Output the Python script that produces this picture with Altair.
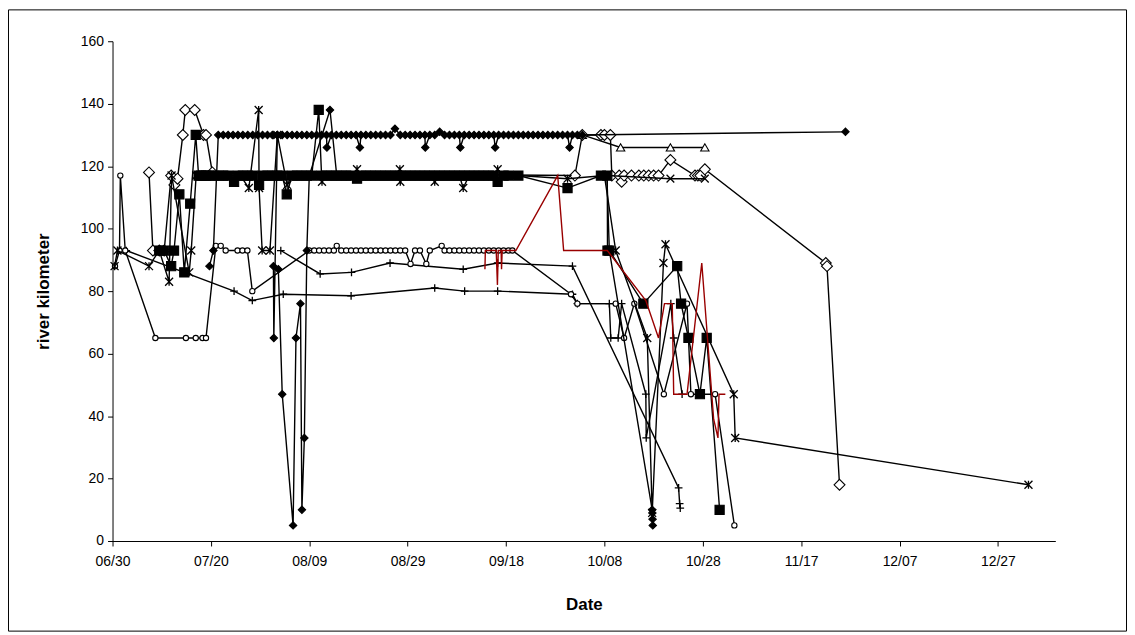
import altair as alt
import pandas as pd

# ---------------- data (date "MM/DD HH", river km) ----------------
tick_dates = ["06/30", "07/20", "08/09", "08/29", "09/18", "10/08", "10/28", "11/17", "12/07", "12/27"]
y_ticks = [0, 20, 40, 60, 80, 100, 120, 140, 160]

dia_band = [
    ("07/19 17", 88), ("07/20 12", 93), ("07/21 12", 130), ("07/22 12", 130), ("07/23 12", 130),
    ("07/24 12", 130), ("07/25 12", 130), ("07/26 12", 130), ("07/27 12", 130), ("07/28 12", 130),
    ("07/29 12", 130), ("07/30 12", 130), ("07/31 12", 130), ("08/01 12", 130), ("08/02 12", 130),
    ("08/03 12", 130), ("08/04 12", 130), ("08/05 12", 130), ("08/06 12", 130), ("08/07 12", 130),
    ("08/08 12", 130), ("08/09 12", 130), ("08/10 12", 130), ("08/11 12", 130), ("08/12 12", 130),
    ("08/12 14", 126), ("08/13 12", 130), ("08/14 12", 130), ("08/15 12", 130), ("08/16 12", 130),
    ("08/17 12", 130), ("08/18 12", 130), ("08/19 07", 126), ("08/19 12", 130), ("08/20 12", 130),
    ("08/21 12", 130), ("08/22 12", 130), ("08/23 12", 130), ("08/24 12", 130), ("08/25 12", 130),
    ("08/26 10", 132), ("08/27 12", 130), ("08/28 12", 130), ("08/29 12", 130), ("08/30 12", 130),
    ("08/31 12", 130), ("09/01 12", 130), ("09/01 14", 126), ("09/02 12", 130), ("09/03 12", 130),
    ("09/04 12", 131), ("09/05 12", 130), ("09/06 12", 130), ("09/07 12", 130), ("09/08 12", 130),
    ("09/08 17", 126), ("09/09 12", 130), ("09/10 12", 130), ("09/11 12", 130), ("09/12 12", 130),
    ("09/13 12", 130), ("09/14 12", 130), ("09/15 12", 130), ("09/15 19", 126), ("09/16 12", 130),
    ("09/17 12", 130), ("09/18 12", 130), ("09/19 12", 130), ("09/20 12", 130), ("09/21 12", 130),
    ("09/22 12", 130), ("09/23 12", 130), ("09/24 12", 130), ("09/25 12", 130), ("09/26 12", 130),
    ("09/27 12", 130), ("09/28 12", 130), ("09/29 12", 130), ("09/30 12", 130), ("09/30 22", 126),
    ("10/01 12", 130), ("10/02 12", 130), ("10/03 12", 130), ("11/26", 131),
]

dia_drop = [
    ("08/02 12", 130), ("08/01 19", 65), ("08/01 17", 88), ("08/02 17", 87), ("08/03 12", 47),
    ("08/05 17", 5), ("08/06 07", 65), ("08/07 05", 76), ("08/07 12", 10), ("08/08 00", 33),
    ("08/08 12", 93), ("08/09 00", 117), ("08/13 05", 138), ("08/14 14", 117),
]

dia_bottom = [
    ("10/08 12", 117), ("10/09 00", 93), ("10/17 17", 10), ("10/17 18", 9), ("10/17 19", 7),
    ("10/17 20", 5),
]

square_pts = [
    ("07/09 12", 93), ("07/10 12", 93), ("07/11 22", 88), ("07/12 12", 93), ("07/13 14", 111),
    ("07/14 14", 86), ("07/15 19", 108), ("07/16 22", 130), ("07/17 12", 117), ("07/18 00", 117),
    ("07/18 12", 117), ("07/19 00", 117), ("07/19 12", 117), ("07/20 12", 117), ("07/21 12", 117),
    ("07/22 12", 117), ("07/23 12", 117), ("07/24 17", 115), ("07/25 12", 117), ("07/26 12", 117),
    ("07/27 12", 117), ("07/28 12", 117), ("07/29 19", 114), ("07/30 12", 117), ("07/31 12", 117),
    ("08/01 12", 117), ("08/02 12", 117), ("08/03 12", 117), ("08/04 10", 111), ("08/05 12", 117),
    ("08/06 12", 117), ("08/07 12", 117), ("08/08 12", 117), ("08/09 12", 117), ("08/10 22", 138),
    ("08/11 12", 117), ("08/12 12", 117), ("08/13 12", 117), ("08/14 12", 117), ("08/15 12", 117),
    ("08/16 12", 117), ("08/17 12", 117), ("08/18 17", 116), ("08/19 12", 117), ("08/20 12", 117),
    ("08/21 12", 117), ("08/22 12", 117), ("08/23 12", 117), ("08/24 12", 117), ("08/25 12", 117),
    ("08/26 12", 117), ("08/27 12", 117), ("08/28 12", 117), ("08/29 12", 117), ("08/30 12", 117),
    ("08/31 12", 117), ("09/01 12", 117), ("09/02 12", 117), ("09/03 12", 117), ("09/04 12", 117),
    ("09/05 12", 117), ("09/06 12", 117), ("09/07 12", 117), ("09/08 12", 117), ("09/09 12", 117),
    ("09/10 12", 117), ("09/11 12", 117), ("09/12 12", 117), ("09/13 12", 117), ("09/14 12", 117),
    ("09/15 12", 117), ("09/16 07", 115), ("09/17 12", 117), ("09/18 12", 117), ("09/20 12", 117),
    ("09/30 12", 113), ("10/07 07", 117), ("10/08 14", 117), ("10/08 15", 93), ("10/09 00", 93),
    ("10/15 22", 76), ("10/22 19", 88), ("10/23 14", 76), ("10/25 02", 65), ("10/27 10", 47),
    ("10/28 19", 65), ("10/31 10", 10),
]

star_pts = [
    ("06/30 10", 88), ("07/01 00", 93), ("07/07 10", 88), ("07/09 12", 93), ("07/11 12", 83),
    ("07/12 00", 117), ("07/15 14", 86), ("07/16 00", 93), ("07/17 00", 117), ("07/18 00", 117),
    ("07/19 00", 117), ("07/20 00", 117), ("07/21 00", 117), ("07/22 00", 117), ("07/23 00", 117),
    ("07/24 00", 117), ("07/25 00", 117), ("07/26 00", 117), ("07/27 17", 113), ("07/29 17", 138),
    ("07/29 19", 113), ("07/30 10", 93), ("08/01 00", 93), ("08/02 12", 130), ("08/04 12", 114),
    ("08/05 12", 117), ("08/06 12", 117), ("08/07 12", 117), ("08/08 12", 117), ("08/09 12", 117),
    ("08/10 12", 117), ("08/11 14", 115), ("08/12 12", 117), ("08/13 12", 117), ("08/14 12", 117),
    ("08/15 12", 117), ("08/16 12", 117), ("08/17 12", 117), ("08/18 17", 119), ("08/19 12", 117),
    ("08/20 12", 117), ("08/21 12", 117), ("08/22 12", 117), ("08/23 12", 117), ("08/24 12", 117),
    ("08/25 12", 117), ("08/26 12", 117), ("08/27 10", 119), ("08/27 12", 115), ("08/28 12", 117),
    ("08/29 12", 117), ("08/30 12", 117), ("08/31 12", 117), ("09/01 12", 117), ("09/02 12", 117),
    ("09/03 12", 115), ("09/04 12", 117), ("09/05 12", 117), ("09/06 12", 117), ("09/07 12", 117),
    ("09/08 12", 117), ("09/09 07", 113), ("09/10 12", 117), ("09/11 12", 117), ("09/12 12", 117),
    ("09/13 12", 117), ("09/14 12", 117), ("09/15 12", 117), ("09/16 07", 119), ("09/17 12", 117),
    ("09/18 12", 117), ("09/19 12", 117), ("09/20 12", 117), ("09/30 12", 116), ("10/08 00", 117),
    ("10/10 07", 93), ("10/16 17", 65), ("10/17 17", 9), ("10/20 00", 89), ("10/20 10", 95),
    ("11/03 07", 47), ("11/03 14", 33), ("01/02 05", 18),
]

star_late = [("10/08 14", 117), ("10/21 10", 116), ("10/28 10", 116)]

open_dia = [
    ("07/07 10", 118), ("07/08 05", 93), ("07/09 12", 93), ("07/10 12", 93), ("07/11 22", 117),
    ("07/12 14", 114), ("07/13 05", 116), ("07/14 07", 130), ("07/14 19", 138), ("07/16 17", 138),
    ("07/18 12", 130), ("07/19 00", 130), ("07/20 07", 118), ("10/02 00", 117), ("10/03 12", 130),
    ("10/07 07", 130), ("10/08 00", 130), ("10/09 05", 130), ("10/09 12", 117), ("10/11 00", 117),
    ("10/11 12", 115), ("10/12 00", 117), ("10/13 12", 117), ("10/15 00", 117), ("10/16 00", 117),
    ("10/17 00", 117), ("10/18 00", 117), ("10/19 00", 117), ("10/21 10", 122), ("10/26 10", 117),
    ("10/27 00", 117), ("10/27 12", 117), ("10/28 10", 119), ("11/22 00", 89), ("11/22 06", 88),
    ("11/24 19", 18),
]

triangle_pts = [("10/03 12", 130), ("10/11 07", 126), ("10/21 10", 126), ("10/28 10", 126)]

circle_pts = [
    ("06/30 12", 88), ("07/01 10", 93), ("07/01 14", 117), ("07/02 14", 93), ("07/08 17", 65),
    ("07/14 22", 65), ("07/16 22", 65), ("07/18 07", 65), ("07/19 00", 65), ("07/21 00", 94.5),
    ("07/22 00", 94.5), ("07/23 00", 93), ("07/25 10", 93), ("07/26 10", 93), ("07/27 10", 93),
    ("07/28 10", 80), ("08/09 00", 93), ("08/10 00", 93), ("08/11 00", 93), ("08/12 00", 93),
    ("08/13 00", 93), ("08/14 00", 93), ("08/14 14", 94.5), ("08/15 12", 93), ("08/16 12", 93),
    ("08/17 12", 93), ("08/18 12", 93), ("08/19 12", 93), ("08/20 12", 93), ("08/21 12", 93),
    ("08/22 12", 93), ("08/23 12", 93), ("08/24 12", 93), ("08/25 12", 93), ("08/26 12", 93),
    ("08/27 12", 93), ("08/28 12", 93), ("08/29 14", 88.7), ("08/30 12", 93), ("08/31 12", 93),
    ("09/01 19", 88.7), ("09/02 12", 93), ("09/04 22", 94.5), ("09/05 12", 93), ("09/06 12", 93),
    ("09/07 12", 93), ("09/08 12", 93), ("09/09 12", 93), ("09/10 12", 93), ("09/11 12", 93),
    ("09/12 12", 93), ("09/13 12", 93), ("09/14 12", 93), ("09/15 12", 93), ("09/16 12", 93),
    ("09/17 12", 93), ("09/18 12", 93), ("09/19 07", 93), ("10/01 05", 79), ("10/02 12", 76),
    ("10/10 07", 76), ("10/12 00", 65), ("10/14 02", 76), ("10/20 02", 47), ("10/24 19", 76),
    ("10/25 14", 47), ("10/30 12", 47), ("11/03 10", 5),
]

plus_low = [
    ("07/02 19", 93), ("07/24 17", 80), ("07/28 10", 77), ("08/03 17", 79), ("08/17 12", 78.5),
    ("09/03 12", 81), ("09/09 14", 80), ("09/16 07", 80), ("10/01 12", 79), ("10/02 12", 76),
    ("10/09 00", 76), ("10/09 07", 65), ("10/10 19", 65), ("10/11 12", 76), ("10/16 10", 47),
    ("10/16 12", 33), ("10/21 12", 76), ("10/22 02", 65), ("10/23 19", 47),
]

plus_high = [
    ("08/03 05", 93), ("08/11 05", 85.5), ("08/17 14", 86), ("08/25 10", 89), ("09/09 07", 87),
    ("09/16 07", 89), ("10/01 12", 88), ("10/23 02", 17), ("10/23 07", 12), ("10/23 10", 10.5),
]

red_pts = [
    ("09/13 17", 87), ("09/13 19", 93), ("09/16 00", 93), ("09/16 06", 82), ("09/16 10", 93),
    ("09/17 00", 93), ("09/17 02", 87), ("09/17 05", 93), ("09/20 00", 93), ("09/28 12", 117),
    ("09/29 17", 93), ("10/08 14", 93), ("10/16 10", 77), ("10/19 00", 65), ("10/20 05", 76),
    ("10/21 19", 76), ("10/22 02", 47), ("10/24 19", 47), ("10/27 19", 89), ("10/30 05", 39),
    ("10/31 02", 33), ("10/31 07", 47), ("11/01 14", 47),
]

# ---------------- helpers ----------------
def to_ts(s):
    parts = s.split()
    m, d = (int(p) for p in parts[0].split("/"))
    h = int(parts[1]) if len(parts) > 1 else 0
    y = 2004 if m >= 6 else 2005
    return pd.Timestamp(year=y, month=m, day=d, hour=h)


def frame(points):
    return pd.DataFrame({
        "t": [to_ts(p[0]) for p in points],
        "v": [p[1] for p in points],
        "idx": list(range(len(points))),
    })


STAR = "M-1,-1L1,1M-1,1L1,-1M0,-1L0,1"
XMARK = "M-1,-1L1,1M-1,1L1,-1"
PLUS = "M-1,0L1,0M0,-1L0,1"

FONT = "Liberation Sans"

x_enc = alt.X(
    "t:T",
    scale=alt.Scale(domain=[alt.DateTime(year=2004, month=6, date=30),
                            alt.DateTime(year=2005, month=1, date=7, hours=16)]),
    axis=alt.Axis(
        values=[alt.DateTime(year=2004, month=int(s[:2]), date=int(s[3:])) for s in tick_dates],
        format="%m/%d", title="Date", labelFlush=False, labelOverlap=False,
        tickSize=5, labelPadding=9, titlePadding=28,
    ),
)
y_enc = alt.Y(
    "v:Q",
    scale=alt.Scale(domain=[0, 160], nice=False, zero=True),
    axis=alt.Axis(values=y_ticks, title="river kilometer", tickSize=5, labelPadding=4,
                  titlePadding=28),
)

specs = [
    (plus_low, PLUS, None, 60),
    (plus_high, PLUS, None, 60),
    (circle_pts, "circle", "white", 28),
    (triangle_pts, "triangle-up", "white", 70),
    (open_dia, "diamond", "white", 120),
    (star_late, XMARK, None, 60),
    (star_pts, STAR, None, 64),
    (square_pts, "square", "black", 85),
    (dia_bottom, "diamond", "black", 55),
    (dia_drop, "diamond", "black", 55),
    (dia_band, "diamond", "black", 55),
]

layers = []
for pts, shape, fill, size in specs:
    df = frame(pts)
    base = alt.Chart(df)
    layers.append(base.mark_line(color="black", strokeWidth=1.4).encode(
        x=x_enc, y=y_enc, order=alt.Order("idx:Q")))
    if fill is None:
        layers.append(base.mark_point(shape=shape, filled=False, size=size, stroke="black",
                                      strokeWidth=1.3, opacity=1).encode(x=x_enc, y=y_enc))
    else:
        layers.append(base.mark_point(shape=shape, filled=True, size=size, fill=fill,
                                      stroke="black", strokeWidth=1.1, opacity=1).encode(x=x_enc, y=y_enc))

red_df = frame(red_pts)
layers.append(alt.Chart(red_df).mark_line(color="#990000", strokeWidth=1.4).encode(
    x=x_enc, y=y_enc, order=alt.Order("idx:Q")))

border = alt.Chart(pd.DataFrame({"a": [0]})).mark_rect(
    fillOpacity=0, stroke="black", strokeWidth=1
).encode(x=alt.value(-104.5), x2=alt.value(1018.5), y=alt.value(-31.5), y2=alt.value(592.5))
layers.append(border)

chart = alt.layer(*layers).properties(
    width=947, height=502,
    autosize=alt.AutoSizeParams(type="none"),
    padding={"left": 105, "top": 32, "right": 72, "bottom": 91},
    background="white",
).configure_view(stroke=None).configure_axis(
    grid=False, domainColor="black", tickColor="black", labelColor="black", titleColor="black",
    labelFont=FONT, titleFont=FONT, labelFontSize=14, titleFontSize=17, titleFontWeight="bold",
    domainWidth=1, tickWidth=1,
)

chart.save("out.html", embed_options={"renderer": "svg", "actions": False})
